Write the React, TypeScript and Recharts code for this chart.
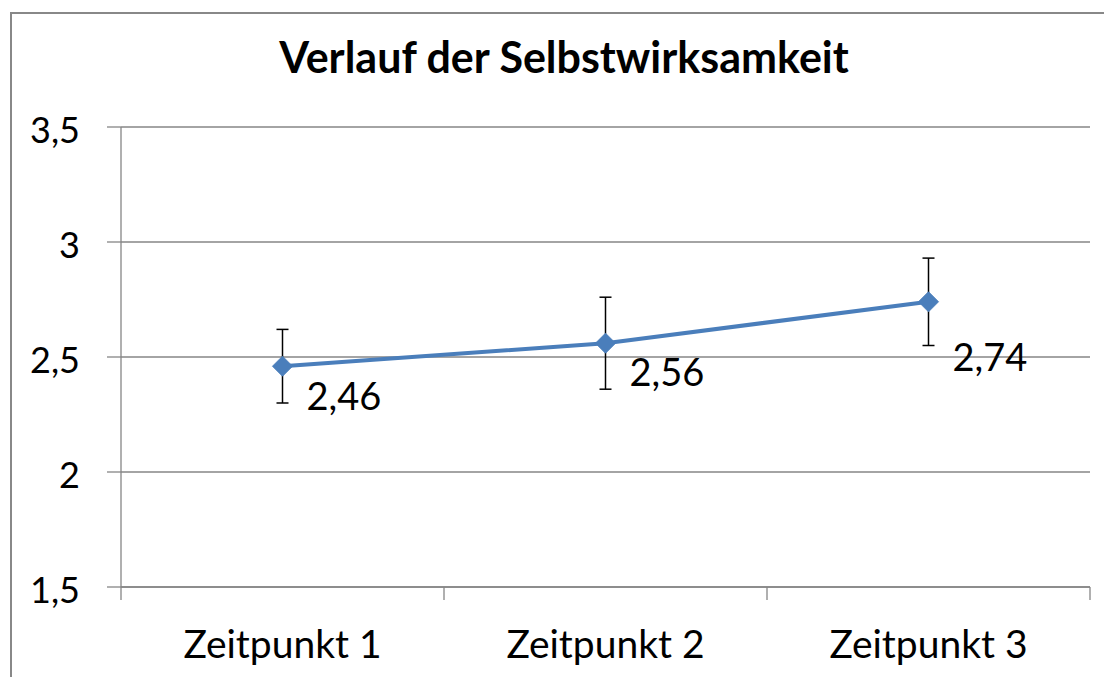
import React from 'react';
import { LineChart, Line, XAxis, YAxis, CartesianGrid, ErrorBar, LabelList } from 'recharts';

const title = 'Verlauf der Selbstwirksamkeit';
const categories = ['Zeitpunkt 1', 'Zeitpunkt 2', 'Zeitpunkt 3'];
const means = [2.46, 2.56, 2.74];
const errors = [0.16, 0.2, 0.19];
const yTicks = [1.5, 2, 2.5, 3, 3.5];

const data = categories.map((c, i) => ({ pos: i + 0.5, name: c, value: means[i], err: errors[i] }));
const labelTicks = categories.map((_, i) => i + 0.5);
const boundaryTicks = categories.map((_, i) => i).concat([categories.length]);

// styling: vertical offset of each data label below its point (px)
const LABEL_DY = [34, 33, 60];

const FONT = 'Lato, "Open Sans", sans-serif';
const GRID = '#868686';
const BLUE = '#4A7EBB';

const fmt = (v: number) => String(v).replace('.', ',');

const Diamond = (props: any) => {
  const { cx, cy } = props;
  if (cx == null || cy == null) return null;
  const r = 10;
  return (
    <polygon
      points={`${cx},${cy - r} ${cx + r},${cy} ${cx},${cy + r} ${cx - r},${cy}`}
      fill={BLUE}
      stroke={BLUE}
      strokeWidth={1}
    />
  );
};

const ValueLabel = (props: any) => {
  const { x, y, value, index } = props;
  return (
    <text x={x + 24} y={y + LABEL_DY[index]} fontSize={38} fontFamily={FONT} fill="#000" dominantBaseline="middle">
      {fmt(value)}
    </text>
  );
};

export default function App() {
  return (
    <div style={{ position: 'absolute', left: 0, top: 0, width: 1104, height: 677, overflow: 'hidden', background: '#fff' }}>
      <div
        style={{
          position: 'absolute',
          left: 10,
          top: 12,
          width: 1200,
          height: 800,
          border: '2px solid #888',
          boxSizing: 'border-box',
        }}
      />
      <div
        style={{
          position: 'absolute',
          left: 0,
          width: 1128,
          top: 33,
          textAlign: 'center',
          fontFamily: FONT,
          fontWeight: 700,
          fontSize: 43,
          lineHeight: '48px',
          color: '#000',
        }}
      >
        {title}
      </div>
      <div style={{ position: 'absolute', left: 0, top: 0 }}>
        <LineChart width={1104} height={677} data={data} margin={{ top: 127, right: 14, bottom: 0, left: 0 }}>
          <CartesianGrid vertical={false} stroke={GRID} strokeWidth={1.3} horizontalValues={yTicks} />
          <XAxis
            xAxisId={0}
            type="number"
            dataKey="pos"
            domain={[0, categories.length]}
            ticks={boundaryTicks}
            tickFormatter={() => ''}
            tickSize={13}
            height={14}
            axisLine={{ stroke: GRID, strokeWidth: 1.3 }}
            tickLine={{ stroke: GRID, strokeWidth: 1.3 }}
          />
          <XAxis
            xAxisId="labels"
            type="number"
            dataKey="pos"
            domain={[0, categories.length]}
            ticks={labelTicks}
            tickFormatter={(v: number) => categories[Math.floor(v)]}
            axisLine={false}
            tickLine={false}
            height={76}
            tickMargin={23}
            tick={{ fontSize: 39, fontFamily: FONT, fill: '#000' }}
          />
          <YAxis
            type="number"
            domain={[1.5, 3.5]}
            ticks={yTicks}
            width={121}
            tickSize={14}
            tickMargin={27}
            tickFormatter={fmt}
            axisLine={{ stroke: GRID, strokeWidth: 1.3 }}
            tickLine={{ stroke: GRID, strokeWidth: 1.3 }}
            tick={{ fontSize: 36, fontFamily: FONT, fill: '#000', dy: 3 }}
            allowDataOverflow
          />
          <Line
            type="linear"
            dataKey="value"
            stroke={BLUE}
            strokeWidth={4}
            dot={<Diamond />}
            activeDot={false}
            isAnimationActive={false}
          >
            <ErrorBar dataKey="err" width={6} stroke="#000" strokeWidth={1.5} direction="y" />
            <LabelList dataKey="value" content={<ValueLabel />} />
          </Line>
        </LineChart>
      </div>
    </div>
  );
}
